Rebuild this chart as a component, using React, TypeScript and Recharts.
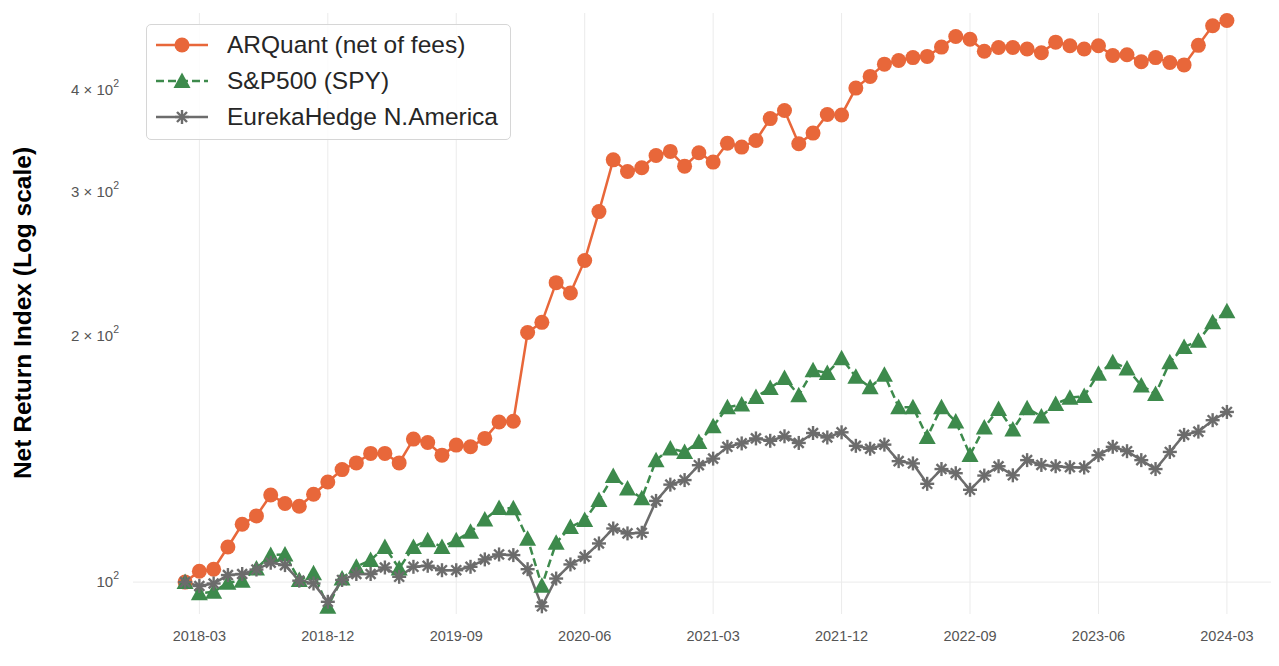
import React from 'react';
import { LineChart, Line, XAxis, YAxis, ReferenceLine } from 'recharts';

// monthly index values, first point = 2018-02
const ARQUANT = [
  100, 103.1, 103.7, 110.4, 117.7, 120.5, 127.8, 124.8, 123.8, 128.1,
  132.6, 137.3, 139.9, 143.7, 143.7, 139.9, 149.6, 148.2, 143.0, 147.1,
  146.4, 149.9, 157.0, 157.3, 202.0, 207.9, 232.5, 225.8, 247.5, 284.0,
  328.6, 318.0, 321.4, 332.7, 336.5, 322.8, 335.2, 326.5, 344.4, 340.6,
  347.0, 369.1, 377.6, 343.9, 354.3, 373.4, 372.9, 402.2, 415.7, 430.3,
  434.7, 438.3, 439.8, 451.5, 465.2, 461.6, 446.3, 451.0, 451.0, 449.0,
  444.4, 457.8, 453.2, 449.0, 453.2, 440.9, 441.8, 433.3, 438.3, 432.3,
  429.4, 453.7, 479.4, 486.6,
];

const SPY = [
  100, 96.9, 97.3, 99.8, 100.4, 103.9, 107.9, 108.1, 100.6, 102.5,
  93.3, 101.0, 104.4, 106.4, 110.4, 103.9, 110.4, 112.5, 110.4, 112.5,
  115.2, 119.3, 123.2, 123.1, 113.0, 99.0, 111.7, 116.8, 119.1, 126.0,
  134.8, 130.2, 126.6, 141.0, 145.7, 144.3, 148.4, 155.1, 163.6, 164.9,
  168.5, 172.8, 177.7, 169.3, 181.6, 180.3, 187.9, 178.3, 173.1, 179.3,
  163.7, 163.7, 150.5, 163.7, 157.2, 143.1, 154.6, 162.8, 153.7, 163.2,
  159.5, 165.2, 168.1, 168.9, 179.9, 185.8, 182.6, 174.0, 169.9, 185.8,
  193.9, 197.4, 207.9, 214.5,
];

const EUREKA = [
  100, 98.9, 99.6, 102.0, 102.3, 103.6, 105.6, 104.9, 100.4, 99.6,
  94.6, 100.6, 102.3, 102.3, 104.2, 101.5, 104.4, 104.7, 103.4, 103.4,
  104.4, 106.6, 108.1, 107.9, 103.7, 93.4, 101.0, 105.1, 107.4, 111.5,
  116.3, 114.7, 114.9, 125.7, 131.6, 133.3, 139.0, 141.6, 146.4, 147.8,
  149.9, 148.9, 150.8, 148.0, 152.2, 150.3, 152.5, 146.8, 145.6, 147.3,
  140.6, 139.7, 131.9, 137.5, 135.9, 129.7, 135.0, 138.6, 135.1, 141.0,
  139.1, 138.6, 138.2, 138.1, 143.0, 146.4, 144.6, 141.0, 137.5, 144.3,
  151.4, 152.8, 157.8, 161.5,
];

const X_TICKS = [1, 10, 19, 28, 37, 46, 55, 64, 73];
const X_TICK_LABELS = ['2018-03', '2018-12', '2019-09', '2020-06', '2021-03', '2021-12', '2022-09', '2023-06', '2024-03'];
const Y_TICKS = [100, 200, 300, 400];
const Y_GRID = [100];

const ORANGE = '#e8673a';
const GREEN = '#3d8a4c';
const GREY = '#6c6c6c';
const GRID = '#ebebeb';
const FONT = '"Liberation Sans", Arial, sans-serif';

const data = ARQUANT.map((v, i) => ({
  idx: i,
  arq: v,
  spy: SPY[i],
  eureka: EUREKA[i],
}));

const CircleDot = (props: any) => {
  const { cx, cy, index } = props;
  if (cx == null || cy == null) return null;
  return <circle key={`c-${index}`} cx={cx} cy={cy} r={7.5} fill={ORANGE} />;
};

const TriangleDot = (props: any) => {
  const { cx, cy, index } = props;
  if (cx == null || cy == null) return null;
  const pts = `${cx},${cy - 8.5} ${cx - 8.5},${cy + 7} ${cx + 8.5},${cy + 7}`;
  return <polygon key={`t-${index}`} points={pts} fill={GREEN} />;
};

const StarDot = (props: any) => {
  const { cx, cy, index } = props;
  if (cx == null || cy == null) return null;
  const r = 7;
  const d = r * 0.707;
  return (
    <g key={`s-${index}`} stroke={GREY} strokeWidth={2.4}>
      <line x1={cx - r} y1={cy} x2={cx + r} y2={cy} />
      <line x1={cx} y1={cy - r} x2={cx} y2={cy + r} />
      <line x1={cx - d} y1={cy - d} x2={cx + d} y2={cy + d} />
      <line x1={cx - d} y1={cy + d} x2={cx + d} y2={cy - d} />
    </g>
  );
};

const LogTick = (props: any) => {
  const { y, payload } = props;
  const m = Math.round(payload.value / 100);
  return (
    <text x={119} y={y} dy={5} textAnchor="end" fill="#555" fontSize={15} fontFamily={FONT}>
      {m === 1 ? '' : `${m} \u00d7 `}10
      <tspan dy={-8} fontSize={10.5}>2</tspan>
    </text>
  );
};

const AxisTitle = () => (
  <text
    x={22}
    y={313}
    transform="rotate(-90 22 313)"
    textAnchor="middle"
    dominantBaseline="central"
    fontSize={24.5}
    fontWeight="bold"
    fill="#000"
    fontFamily={FONT}
  >
    Net Return Index (Log scale)
  </text>
);

const LEGEND_ITEMS = [
  { name: 'ARQuant (net of fees)', color: ORANGE, marker: 'circle', dash: '' },
  { name: 'S&P500 (SPY)', color: GREEN, marker: 'triangle', dash: '8 4' },
  { name: 'EurekaHedge N.America', color: GREY, marker: 'star', dash: '' },
];

function LegendBox() {
  return (
    <div
      style={{
        position: 'absolute',
        left: 146,
        top: 24,
        width: 365,
        height: 116,
        border: '1.5px solid #d6d6d6',
        borderRadius: 5,
        background: 'rgba(255,255,255,0.85)',
        boxSizing: 'border-box',
        fontFamily: FONT,
      }}
    >
      {LEGEND_ITEMS.map((it, i) => (
        <div key={it.name} style={{ position: 'absolute', left: 8, top: 4 + i * 36, height: 32, display: 'flex', alignItems: 'center' }}>
          <svg width={54} height={24}>
            <line x1={1} y1={12} x2={53} y2={12} stroke={it.color} strokeWidth={2.5} strokeDasharray={it.dash || undefined} />
            {it.marker === 'circle' && <circle cx={27} cy={12} r={7.5} fill={it.color} />}
            {it.marker === 'triangle' && <polygon points="27,3.5 18.5,19 35.5,19" fill={it.color} />}
            {it.marker === 'star' && (
              <g stroke={it.color} strokeWidth={2.4}>
                <line x1={20} y1={12} x2={34} y2={12} />
                <line x1={27} y1={5} x2={27} y2={19} />
                <line x1={22} y1={7} x2={32} y2={17} />
                <line x1={22} y1={17} x2={32} y2={7} />
              </g>
            )}
          </svg>
          <span style={{ marginLeft: 18, fontSize: 24.5, color: '#262626', whiteSpace: 'nowrap' }}>{it.name}</span>
        </div>
      ))}
    </div>
  );
}

export default function App() {
  return (
    <div style={{ position: 'relative', width: 1279, height: 666, margin: -8, background: '#fff', overflow: 'hidden' }}>
      <LineChart width={1279} height={666} data={data} margin={{ top: 13, right: 0, bottom: 0, left: 0 }}>
        {X_TICKS.map((t) => (
          <ReferenceLine key={`gx-${t}`} x={t} stroke={GRID} strokeWidth={1} />
        ))}
        {Y_GRID.map((t) => (
          <ReferenceLine key={`gy-${t}`} y={t} stroke={GRID} strokeWidth={1} />
        ))}
        <XAxis
          dataKey="idx"
          type="number"
          domain={[-3.65, 76.65]}
          ticks={X_TICKS}
          tickFormatter={(v: number) => X_TICK_LABELS[X_TICKS.indexOf(v)]}
          axisLine={false}
          tickLine={false}
          tickMargin={11}
          height={52}
          tick={{ fill: '#555', fontSize: 14.5, fontFamily: FONT }}
          allowDataOverflow
        />
        <YAxis
          scale="log"
          domain={[91.4, 497]}
          ticks={Y_TICKS}
          width={133}
          axisLine={false}
          tickLine={false}
          tick={<LogTick />}
          allowDataOverflow
          label={<AxisTitle />}
        />
        <Line
          dataKey="arq"
          stroke={ORANGE}
          strokeWidth={2.5}
          dot={CircleDot}
          activeDot={false}
          isAnimationActive={false}
        />
        <Line
          dataKey="spy"
          stroke={GREEN}
          strokeWidth={2.5}
          strokeDasharray="8 4"
          dot={TriangleDot}
          activeDot={false}
          isAnimationActive={false}
        />
        <Line
          dataKey="eureka"
          stroke={GREY}
          strokeWidth={2.5}
          dot={StarDot}
          activeDot={false}
          isAnimationActive={false}
        />
      </LineChart>
      <LegendBox />
    </div>
  );
}
